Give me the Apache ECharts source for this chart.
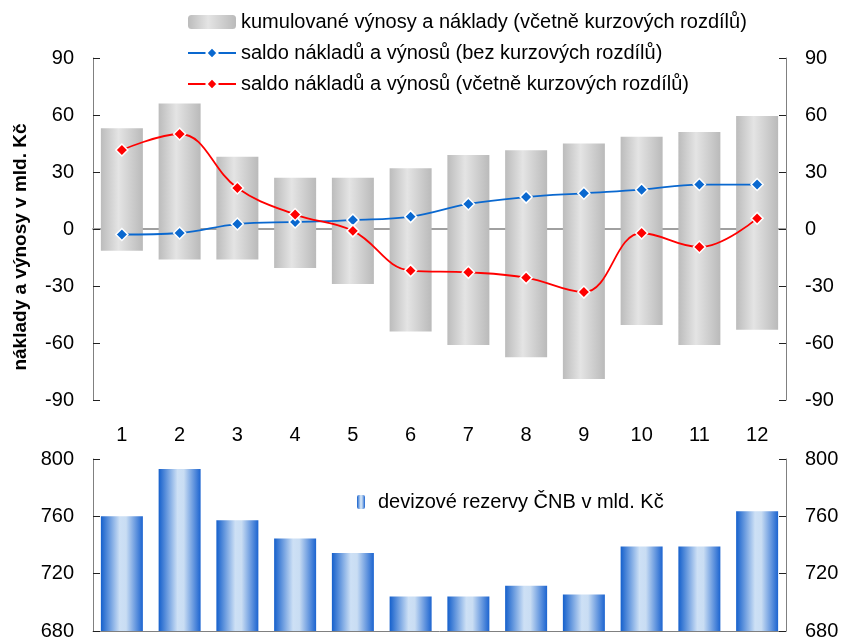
<!DOCTYPE html>
<html>
<head>
<meta charset="utf-8">
<script src="https://cdn.jsdelivr.net/npm/echarts@6/dist/echarts.min.js"></script>
<style>
  html, body { margin: 0; padding: 0; background: #fff; }
  #main { width: 843px; height: 641px; }
</style>
</head>
<body>
<div id="main"></div>
<script>
const months = ['1', '2', '3', '4', '5', '6', '7', '8', '9', '10', '11', '12'];
// kumulované výnosy (kladné) a náklady (záporné), mld. Kč
const vynosy = [53, 66, 38, 27, 27, 32, 39, 41.5, 45, 48.5, 51, 59.5];
const naklady = [-11.5, -16, -16, -20.5, -29, -54, -61, -67.5, -79, -50.5, -61, -53];
const saldoBez = [-2.9, -2.1, 2.6, 3.7, 4.7, 6.5, 13.2, 16.8, 18.8, 20.7, 23.4, 23.4];
const saldoVcetne = [41.6, 50, 21.6, 7.6, -1, -21.9, -22.8, -25.6, -33.2, -2.1, -9.5, 5.6];
const rezervy = [760, 793, 757.3, 744.5, 734.4, 704, 704, 711.5, 705.4, 739, 739, 763.5];

const NAME_BARS = 'kumulované výnosy a náklady (včetně kurzových rozdílů)';
const NAME_BEZ = 'saldo nákladů a výnosů (bez kurzových rozdílů)';
const NAME_VCETNE = 'saldo nákladů a výnosů (včetně kurzových rozdílů)';
const NAME_REZ = 'devizové rezervy ČNB v mld. Kč';

const FONT = 'Liberation Sans, Arial, sans-serif';
const FS = 20;

var myChart = echarts.init(document.getElementById('main'), null, {
  width: 843,
  height: 641,
});

const grayGrad = new echarts.graphic.LinearGradient(0, 0, 1, 0, [
  { offset: 0, color: '#bcbcbc' },
  { offset: 0.42, color: '#e4e4e4' },
  { offset: 1, color: '#bababa' }
]);
const blueGrad = new echarts.graphic.LinearGradient(0, 0, 1, 0, [
  { offset: 0, color: '#1560cc' },
  { offset: 0.45, color: '#cde0f5' },
  { offset: 0.6, color: '#c9ddf3' },
  { offset: 1, color: '#1c64d0' }
]);

function valueAxis(grid, pos, min, max, interval) {
  return {
    type: 'value',
    gridIndex: grid,
    position: pos,
    min: min,
    max: max,
    interval: interval,
    splitLine: { show: false },
    axisLine: { show: true, lineStyle: { color: '#808080', width: 1 } },
    axisTick: { show: true, inside: true, length: 7, lineStyle: { color: '#222' } },
    axisLabel: { color: '#000', fontSize: FS, fontFamily: FONT, margin: 19 }
  };
}

let option = {
  animation: false,
  backgroundColor: '#fff',
  textStyle: { fontFamily: FONT },
  legend: [
    {
      data: [NAME_BARS, NAME_BEZ, NAME_VCETNE],
      orient: 'vertical',
      left: 187,
      top: 10,
      padding: 0,
      itemWidth: 48,
      itemHeight: 14,
      itemGap: 7,
      selectedMode: false,
      textStyle: { color: '#000', fontSize: FS, lineHeight: 24, fontFamily: FONT }
    },
    {
      data: [NAME_REZ],
      left: 357,
      top: 490,
      padding: 0,
      itemWidth: 8,
      itemHeight: 14,
      selectedMode: false,
      textStyle: { color: '#000', fontSize: FS, lineHeight: 24, fontFamily: FONT, padding: [0, 0, 0, 8] }
    }
  ],
  graphic: [
    {
      type: 'text',
      x: 21,
      y: 247,
      rotation: Math.PI / 2,
      style: {
        text: 'náklady a výnosy v mld. Kč',
        fill: '#000',
        font: 'bold 19px Liberation Sans, Arial, sans-serif',
        align: 'center',
        verticalAlign: 'middle'
      }
    }
  ],
  grid: [
    { left: 93, right: 57, top: 58, height: 342 },
    { left: 93, right: 57, top: 459, height: 178 }
  ],
  xAxis: [
    {
      type: 'category',
      gridIndex: 0,
      data: months,
      axisLine: { show: true, onZero: true, lineStyle: { color: '#a0a0a0', width: 2 } },
      axisTick: { show: false },
      axisLabel: { show: false }
    },
    {
      type: 'category',
      gridIndex: 1,
      position: 'top',
      data: months,
      axisLine: { show: false },
      axisTick: { show: false },
      axisLabel: { color: '#000', fontSize: FS, fontFamily: FONT, margin: 14 }
    },
    {
      type: 'category',
      gridIndex: 1,
      position: 'bottom',
      data: months,
      axisLine: { show: true, onZero: false, lineStyle: { color: '#808080' } },
      axisTick: { show: false },
      axisLabel: { show: false }
    }
  ],
  yAxis: [
    valueAxis(0, 'left', -90, 90, 30),
    valueAxis(0, 'right', -90, 90, 30),
    valueAxis(1, 'left', 680, 800, 40),
    valueAxis(1, 'right', 680, 800, 40)
  ],
  series: [
    {
      name: NAME_BARS,
      type: 'bar',
      xAxisIndex: 0,
      yAxisIndex: 0,
      stack: 'kum',
      barWidth: 42,
      itemStyle: { color: grayGrad },
      data: vynosy
    },
    {
      name: NAME_BARS,
      type: 'bar',
      xAxisIndex: 0,
      yAxisIndex: 0,
      stack: 'kum',
      barWidth: 42,
      itemStyle: { color: grayGrad },
      data: naklady
    },
    {
      name: NAME_BEZ,
      type: 'line',
      xAxisIndex: 0,
      yAxisIndex: 0,
      smooth: 0.4,
      symbol: 'diamond',
      symbolSize: 12,
      lineStyle: { color: '#0a68cf', width: 1.8 },
      itemStyle: { color: '#0a68cf', borderColor: '#fff', borderWidth: 1.5 },
      z: 5,
      data: saldoBez
    },
    {
      name: NAME_VCETNE,
      type: 'line',
      xAxisIndex: 0,
      yAxisIndex: 0,
      smooth: 0.4,
      symbol: 'diamond',
      symbolSize: 12,
      lineStyle: { color: '#ff0000', width: 1.8 },
      itemStyle: { color: '#ff0000', borderColor: '#fff', borderWidth: 1.5 },
      z: 6,
      data: saldoVcetne
    },
    {
      name: NAME_REZ,
      type: 'bar',
      xAxisIndex: 1,
      yAxisIndex: 2,
      barWidth: 42,
      itemStyle: { color: blueGrad },
      data: rezervy
    }
  ]
};

myChart.setOption(option);
</script>
</body>
</html>
